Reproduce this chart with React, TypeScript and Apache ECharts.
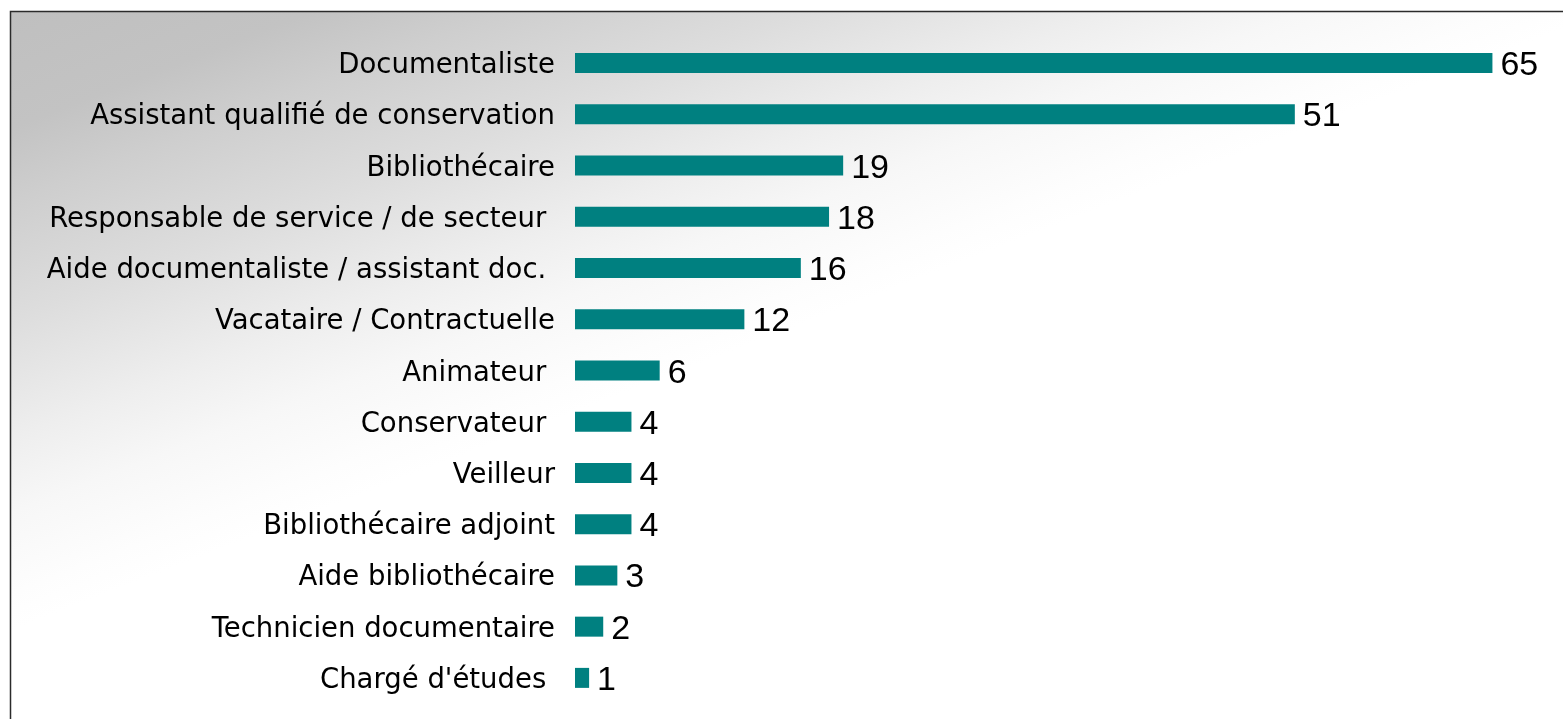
import React, { useEffect, useRef } from "react";
import * as echarts from "echarts";

const categories = [
  "Documentaliste",
  "Assistant qualifié de conservation",
  "Bibliothécaire",
  "Responsable de service / de secteur ",
  "Aide documentaliste / assistant doc. ",
  "Vacataire / Contractuelle",
  "Animateur ",
  "Conservateur ",
  "Veilleur",
  "Bibliothécaire adjoint",
  "Aide bibliothécaire",
  "Technicien documentaire",
  "Chargé d'études ",
];
const values = [65, 51, 19, 18, 16, 12, 6, 4, 4, 4, 3, 2, 1];

export default function App() {
  const ref = useRef<HTMLDivElement>(null);
  useEffect(() => {
    if (!ref.current) return;
    const chart = echarts.init(ref.current, null, { renderer: "svg" });
    chart.setOption({
      animation: false,
      graphic: [
        {
          type: "rect",
          z: -10,
          silent: true,
          shape: { x: 10.5, y: 11.5, width: 1570, height: 720 },
          style: {
            fill: {
              type: "linear",
              global: true,
              x: 10,
              y: 11,
              x2: 219,
              y2: 550,
              colorStops: [
                { offset: 0, color: "#bfbfbf" },
                { offset: 0.19, color: "#c3c3c3" },
                { offset: 0.31, color: "#cecece" },
                { offset: 0.5, color: "#dddddd" },
                { offset: 0.69, color: "#eeeeee" },
                { offset: 0.81, color: "#f7f7f7" },
                { offset: 0.94, color: "#fdfdfd" },
                { offset: 1, color: "#ffffff" },
              ],
            },
            stroke: "#2b2b2b",
            lineWidth: 1.5,
          },
        },
      ],
      grid: { left: 575, right: 0, top: 37.5, bottom: 15.5, containLabel: false },
      xAxis: { type: "value", min: 0, max: 70, show: false },
      yAxis: {
        type: "category",
        data: categories,
        inverse: true,
        axisLine: { show: false },
        axisTick: { show: false },
        splitLine: { show: false },
        axisLabel: {
          margin: 20,
          color: "#000",
          fontFamily: "DejaVu Sans",
          fontSize: 27.5,
        },
      },
      series: [
        {
          type: "bar",
          data: values,
          barWidth: 20,
          itemStyle: { color: "#008080" },
          label: {
            show: true,
            position: "right",
            distance: 8,
            color: "#000",
            fontFamily: "Liberation Sans",
            fontSize: 34,
          },
        },
      ],
    });
    return () => chart.dispose();
  }, []);
  return (
    <div
      ref={ref}
      style={{ position: "fixed", left: 0, top: 0, width: 1563, height: 719 }}
    />
  );
}
